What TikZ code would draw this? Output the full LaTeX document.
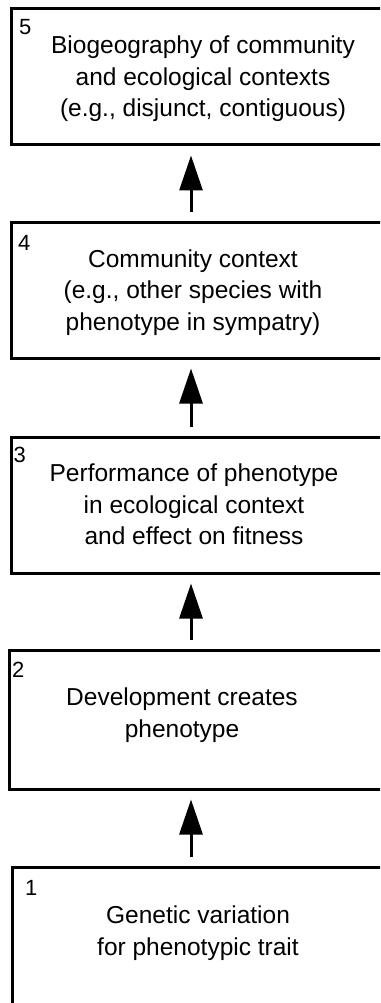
\documentclass[tikz,border=0pt]{standalone}
\usepackage{fontspec}
\setmainfont{Liberation Sans}
\usetikzlibrary{arrows.meta}

\tikzset{
  stage/.style={draw, line width=3pt, minimum width=384pt, minimum height=136pt, inner sep=0pt},
  desc/.style={align=center, inner sep=0pt, font=\fontsize{24.5}{31.5}\selectfont},
  num/.style={anchor=base west, inner sep=0pt, font=\fontsize{22}{26}\selectfont},
  up/.style={-{Triangle[length=35pt,width=23pt]}, line width=3pt, shorten <=9pt, shorten >=9pt},
}

\begin{document}
\begin{tikzpicture}[x=1pt, y=-1pt]
  \useasboundingbox (0,0) rectangle (380,1003);
  \clip (0,0) rectangle (380,1003);

  % Boxes, bottom to top
  \node[stage, minimum height=138pt] (box1) at (204,936) {};
  \node[stage, minimum height=139pt] (box2) at (201,719.5) {};
  \node[stage] (box3) at (203,505) {};
  \node[stage] (box4) at (203,290) {};
  \node[stage] (box5) at (203,77) {};

  % Step numbers
  \node[num] (n1) at (25,895) {1};
  \node[num] (n2) at (12,677) {2};
  \node[num] (n3) at (13.5,462) {3};
  \node[num] (n4) at (18,250) {4};
  \node[num] (n5) at (19,35) {5};

  % Texts
  \node[desc] (t1) at (198,933) {Genetic variation\\for phenotypic trait};
  \node[desc] (t2) at (182,715) {Development creates\\phenotype};
  \node[desc] (t3) at (194,504.5) {Performance of phenotype\\in ecological context\\and effect on fitness};
  \node[desc] (t4) at (193,292.5) {Community context\\(e.g., other species with\\phenotype in sympatry)};
  \node[desc] (t5) at (203,79) {Biogeography of community\\and ecological contexts\\(e.g., disjunct, contiguous)};

  % Arrows
  \coordinate (ax) at (191,0);
  \draw[up] (box1.north -| ax) -- (box2.south -| ax);
  \draw[up] (box2.north -| ax) -- (box3.south -| ax);
  \draw[up] (box3.north -| ax) -- (box4.south -| ax);
  \draw[up] (box4.north -| ax) -- (box5.south -| ax);
\end{tikzpicture}
\end{document}
